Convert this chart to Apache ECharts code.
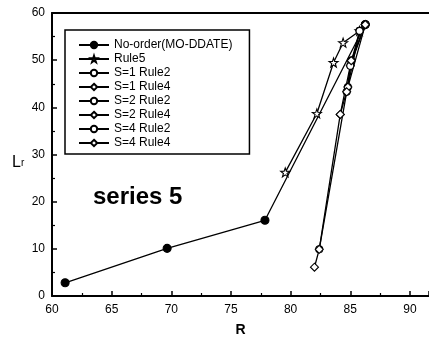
<!DOCTYPE html>
<html>
<head>
<meta charset="utf-8">
<script src="https://cdn.jsdelivr.net/npm/echarts@6/dist/echarts.min.js"></script>
<style>
  html, body { margin: 0; padding: 0; background: #fff; }
  #chart { width: 429px; height: 342px; }
</style>
</head>
<body>
<div id="chart"></div>
<script>
// R vs L_r for the ordering rules, [R, Lr] pairs
const noOrder   = [[61.1, 2.8], [69.65, 10.1], [77.85, 16.05], [86.26, 57.55]];
const rule5     = [[79.55, 26.2], [82.2, 38.7], [83.6, 49.5], [84.4, 53.7], [85.78, 56.2]];
const s1Rule2   = [[82.4, 9.9], [84.7, 43.3], [85.78, 56.2]];
const s1Rule4   = [[82.0, 6.1], [82.4, 9.9], [84.16, 38.5], [85.0, 48.8], [86.26, 57.55]];
const s2Rule2   = [[84.8, 44.3], [85.08, 49.9], [86.26, 57.55]];
const s2Rule4   = [[84.16, 38.5], [84.8, 44.3], [86.26, 57.55]];
const s4Rule2   = [[85.0, 48.8], [85.78, 56.2], [86.26, 57.55]];
const s4Rule4   = [[84.7, 43.3], [85.08, 49.9], [86.26, 57.55]];

const seriesNames = ['No-order(MO-DDATE)', 'Rule5', 'S=1 Rule2', 'S=1 Rule4',
                     'S=2 Rule2', 'S=2 Rule4', 'S=4 Rule2', 'S=4 Rule4'];
const xTicks = { min: 60, max: 91.6, step: 5 };
const yTicks = { min: 0, max: 60, step: 10 };
const plotTitle = 'series 5';

const STAR = 'path://M0,-10L2.35,-3.24L9.51,-3.09L3.8,1.24L5.88,8.09L0,4L-5.88,8.09L-3.8,1.24L-9.51,-3.09L-2.35,-3.24Z';
const FONT = '"Liberation Sans", Arial, sans-serif';

function lineSeries(name, data, symbol, size, filled) {
  return {
    name, type: 'line', data, symbol, symbolSize: size,
    showSymbol: true,
    lineStyle: { color: '#000', width: 1.3 },
    itemStyle: { color: filled ? '#000' : '#fff', borderColor: '#000', borderWidth: 1.1 },
    emphasis: { disabled: true },
    animation: false, z: 3
  };
}

const chart = echarts.init(document.getElementById('chart'), null, { renderer: 'canvas' });
chart.setOption({
  backgroundColor: '#fff',
  animation: false,
  textStyle: { fontFamily: FONT },
  grid: { left: 52, right: 0, top: 13, bottom: 42, show: false },
  legend: {
    data: seriesNames,
    orient: 'vertical',
    left: 65, top: 30,
    padding: [9, 17, 5, 13],
    itemWidth: 30, itemHeight: 8, itemGap: 2,
    borderColor: '#000', borderWidth: 1.5,
    textStyle: { fontFamily: FONT, fontSize: 12, color: '#000', lineHeight: 12 },
    selectedMode: false
  },
  graphic: [{
    type: 'text', left: 93, top: 185, silent: true,
    style: { text: plotTitle, font: 'bold 24px ' + FONT, fill: '#000' }
  }, {
    type: 'text', left: 12, top: 155, silent: true,
    style: {
      text: '{a|L}{b|r}',
      rich: {
        a: { font: '16px ' + FONT, fill: '#000' },
        b: { font: '10px ' + FONT, fill: '#000', padding: [0, 0, 0, 0] }
      }
    }
  }],
  xAxis: [{
    type: 'value', position: 'bottom',
    min: xTicks.min, max: xTicks.max, interval: xTicks.step,
    name: 'R', nameLocation: 'middle', nameGap: 27,
    nameTextStyle: { fontFamily: FONT, fontSize: 14, fontWeight: 'bold', color: '#000' },
    axisLine: { show: true, lineStyle: { color: '#000', width: 2 } },
    axisTick: { show: true, inside: true, length: 5, lineStyle: { color: '#000', width: 1.5 } },
    minorTick: { show: true, splitNumber: 2, length: 3, lineStyle: { color: '#000', width: 1.2 } },
    axisLabel: { color: '#000', fontSize: 12, margin: 8, showMaxLabel: false,
                 formatter: v => (v % 5 === 0 ? String(v) : '') },
    splitLine: { show: false }
  }, {
    type: 'value', position: 'top',
    min: xTicks.min, max: xTicks.max,
    axisLine: { show: true, lineStyle: { color: '#000', width: 2 } },
    axisTick: { show: false }, axisLabel: { show: false }, splitLine: { show: false }
  }],
  yAxis: {
    type: 'value', min: yTicks.min, max: yTicks.max, interval: yTicks.step,
    axisLine: { show: true, lineStyle: { color: '#000', width: 2 } },
    axisTick: { show: true, inside: true, length: 5, lineStyle: { color: '#000', width: 1.5 } },
    minorTick: { show: true, splitNumber: 2, length: 3, lineStyle: { color: '#000', width: 1.2 } },
    axisLabel: { color: '#000', fontSize: 12, margin: 7 },
    splitLine: { show: false }
  },
  series: [
    lineSeries(seriesNames[0], noOrder, 'circle', 8, true),
    lineSeries(seriesNames[1], rule5, STAR, 9, false),
    lineSeries(seriesNames[2], s1Rule2, 'circle', 7, false),
    lineSeries(seriesNames[3], s1Rule4, 'diamond', 8, false),
    lineSeries(seriesNames[4], s2Rule2, 'circle', 7, false),
    lineSeries(seriesNames[5], s2Rule4, 'diamond', 8, false),
    lineSeries(seriesNames[6], s4Rule2, 'circle', 7, false),
    lineSeries(seriesNames[7], s4Rule4, 'diamond', 8, false)
  ]
});
</script>
</body>
</html>
